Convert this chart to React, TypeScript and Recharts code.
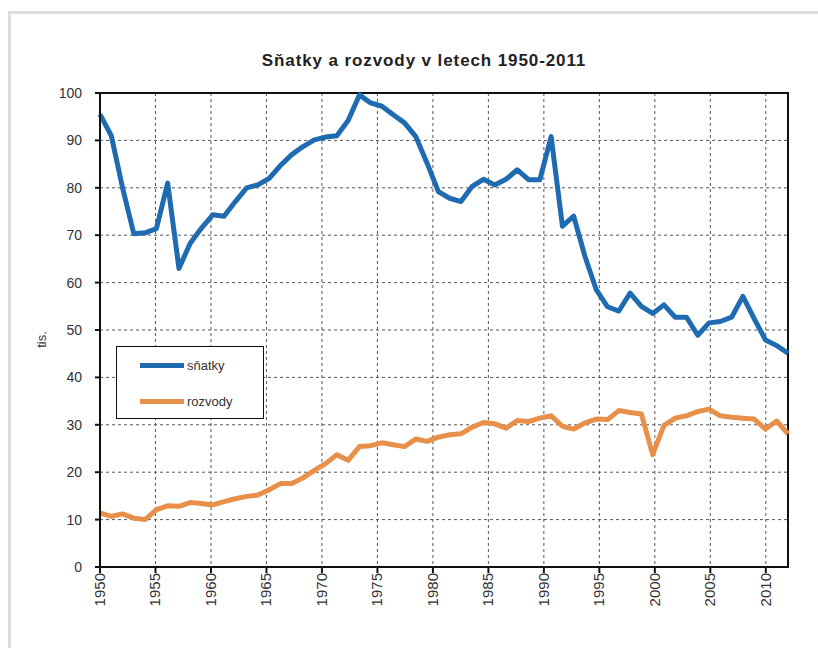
import { LineChart, Line, XAxis, YAxis, CartesianGrid, ReferenceArea } from "recharts";

// roky 1950–2011, hodnoty v tisících
const years = [
  1950, 1951, 1952, 1953, 1954, 1955, 1956, 1957, 1958, 1959,
  1960, 1961, 1962, 1963, 1964, 1965, 1966, 1967, 1968, 1969,
  1970, 1971, 1972, 1973, 1974, 1975, 1976, 1977, 1978, 1979,
  1980, 1981, 1982, 1983, 1984, 1985, 1986, 1987, 1988, 1989,
  1990, 1991, 1992, 1993, 1994, 1995, 1996, 1997, 1998, 1999,
  2000, 2001, 2002, 2003, 2004, 2005, 2006, 2007, 2008, 2009,
  2010, 2011,
];

const snatky = [
  95.5, 91.0, 80.0, 70.3, 70.5, 71.4, 81.0, 63.0, 68.3, 71.5,
  74.3, 74.0, 77.1, 80.0, 80.6, 82.0, 84.7, 87.0, 88.7, 90.1,
  90.7, 91.0, 94.2, 99.6, 97.9, 97.2, 95.4, 93.7, 90.8, 85.2,
  79.2, 77.8, 77.1, 80.3, 81.8, 80.6, 81.8, 83.8, 81.7, 81.7,
  90.8, 71.9, 74.0, 65.5, 58.5, 54.9, 54.0, 57.8, 55.0, 53.5,
  55.3, 52.7, 52.7, 48.9, 51.5, 51.8, 52.7, 57.1, 52.4, 47.9,
  46.7, 45.1,
];

const rozvody = [
  11.4, 10.7, 11.2, 10.3, 10.0, 12.1, 12.9, 12.8, 13.6, 13.4,
  13.1, 13.8, 14.4, 14.9, 15.2, 16.3, 17.6, 17.6, 18.8, 20.4,
  21.8, 23.7, 22.5, 25.4, 25.6, 26.2, 25.8, 25.4, 27.0, 26.5,
  27.4, 27.9, 28.1, 29.5, 30.5, 30.2, 29.3, 30.9, 30.7, 31.4,
  31.9, 29.7, 29.1, 30.4, 31.2, 31.1, 33.0, 32.6, 32.3, 23.7,
  29.9, 31.4, 31.9, 32.8, 33.3, 31.9, 31.6, 31.4, 31.2, 29.1,
  30.8, 28.1,
];

const yearTicks = [1950, 1955, 1960, 1965, 1970, 1975, 1980, 1985, 1990, 1995, 2000, 2005, 2010];
const valueTicks = [0, 10, 20, 30, 40, 50, 60, 70, 80, 90, 100];

const data = years.map((year, i) => ({ year, snatky: snatky[i], rozvody: rozvody[i] }));

const BLUE = "#1f6bb2";
const ORANGE = "#e8904a";
const FONT = "'Liberation Sans', Arial, sans-serif";

// svislé popisky let pod osou
const YearTick = (props: any) => {
  const { x, y, payload } = props;
  return (
    <g transform={`translate(${x},${y})`}>
      <text
        transform="rotate(-90)"
        x={2}
        textAnchor="end"
        dy={5}
        fontSize={15}
        fill="#333"
        fontFamily={FONT}
      >
        {payload.value}
      </text>
    </g>
  );
};

const legendItems = [
  { name: "sňatky", color: BLUE, top: 18 },
  { name: "rozvody", color: ORANGE, top: 54 },
];

const LegendBox = () => (
  <div
    style={{
      position: "absolute",
      left: 116,
      top: 346,
      width: 148,
      height: 73,
      border: "1.5px solid #111",
      background: "#fff",
      fontFamily: FONT,
      fontSize: 13,
      color: "#333",
      boxSizing: "border-box",
    }}
  >
    {legendItems.map((item) => (
      <div
        key={item.name}
        style={{ position: "absolute", left: 23, top: item.top - 9, display: "flex", alignItems: "center", height: 18 }}
      >
        <div style={{ width: 44, height: 5, background: item.color }} />
        <span style={{ marginLeft: 3 }}>{item.name}</span>
      </div>
    ))}
  </div>
);

export default function App() {
  return (
    <div style={{ position: "absolute", left: 0, top: 0, width: 818, height: 648, background: "#fff" }}>
      <div
        style={{
          position: "absolute",
          left: 8,
          top: 11,
          width: 810,
          height: 637,
          borderTop: "3px solid #dedede",
          borderLeft: "3px solid #dedede",
        }}
      />
      <div
        style={{
          position: "absolute",
          left: 0,
          width: 848,
          top: 51,
          textAlign: "center",
          fontFamily: FONT,
          fontWeight: "bold",
          fontSize: 17,
          letterSpacing: 0.9,
          color: "#222",
        }}
      >
        Sňatky a rozvody v letech 1950-2011
      </div>
      <div
        style={{
          position: "absolute",
          left: 26,
          top: 332,
          width: 30,
          textAlign: "center",
          transform: "rotate(-90deg)",
          fontFamily: FONT,
          fontSize: 13,
          color: "#333",
        }}
      >
        tis.
      </div>
      <div style={{ position: "absolute", left: 0, top: 0 }}>
        <LineChart width={818} height={648} data={data} margin={{ top: 93, right: 30, bottom: 31, left: 60 }}>
          <CartesianGrid xAxisId="grid" stroke="#555" strokeDasharray="3 3" strokeWidth={1} />
          <XAxis
            xAxisId="grid"
            dataKey="year"
            type="number"
            domain={[1950, 2012]}
            ticks={yearTicks}
            allowDataOverflow
            height={50}
            tickSize={6}
            tickMargin={2}
            tick={<YearTick />}
            stroke="#111"
            strokeWidth={2}
            interval={0}
          />
          {/* osa pro samotné řady: 1950 u levého okraje, 2011 u pravého */}
          <XAxis xAxisId="data" dataKey="year" type="number" domain={[1950, 2011]} height={0} hide />
          <YAxis
            domain={[0, 100]}
            ticks={valueTicks}
            width={40}
            tickSize={5}
            tickMargin={13}
            stroke="#111"
            strokeWidth={2}
            interval={0}
            tick={{ fontSize: 14, fill: "#333", fontFamily: FONT }}
          />
          <ReferenceArea
            xAxisId="grid"
            x1={1950}
            x2={2012}
            y1={0}
            y2={100}
            fill="none"
            stroke="#111"
            strokeWidth={2}
            ifOverflow="visible"
          />
          <Line
            xAxisId="data"
            dataKey="snatky"
            name="sňatky"
            stroke={BLUE}
            strokeWidth={5}
            dot={false}
            strokeLinejoin="round"
            isAnimationActive={false}
          />
          <Line
            xAxisId="data"
            dataKey="rozvody"
            name="rozvody"
            stroke={ORANGE}
            strokeWidth={5}
            dot={false}
            strokeLinejoin="round"
            isAnimationActive={false}
          />
        </LineChart>
      </div>
      <LegendBox />
    </div>
  );
}
